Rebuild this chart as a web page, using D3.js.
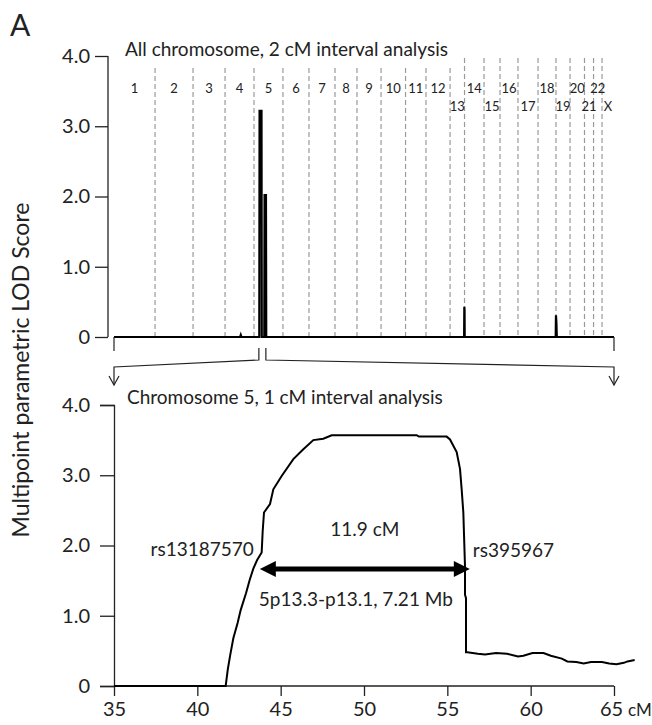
<!DOCTYPE html>
<html>
<head>
<meta charset="utf-8">
<script src="https://cdn.jsdelivr.net/npm/d3@7"></script>
<style>
  body { margin: 0; background: #fff; }
  text { font-family: Lato, "Open Sans", sans-serif; fill: #222; }
</style>
</head>
<body>
<div id="chart"></div>
<script>
// LOD score figure: genome-wide scan (top) and chromosome 5 zoom (bottom)

const width = 652;
const height = 725;

// chromosome names and approximate lengths (cM) for the genome-wide panel
const chromNames = ["1","2","3","4","5","6","7","8","9","10","11","12","13","14","15","16","17","18","19","20","21","22","X"];
const chromLen = [295,273,230,208,208,187,187,158,173,176,147,173,104,140,115,129,144,129,101,104,65,61,86];
// chromosomes whose label sits on the second row
const lowRow = ["13","15","17","19","21","X"];

// genome scan, 2 cM interval (non-zero parts and anchors)
const topChrom = ["1","4","4","4","5","5","5","5","5","5","5","5","13","13","13","14","18","19","19","19","X"];
const topCM    = [0, 108, 113, 118, 38, 40, 54, 56, 74, 76, 86, 88, 101, 102.5, 104, 1, 127, 0, 3, 6, 86];
const topLOD   = [0, 0, 0.03, 0, 0, 3.22, 3.22, 0, 0, 2.02, 2.02, 0, 0, 0.43, 0.38, 0, 0, 0.31, 0.21, 0, 0];

// chromosome 5, 1 cM interval
const chr5CM  = [35, 41.7, 41.83, 41.98, 42.16, 42.42, 42.6, 42.92, 43.14, 43.36, 43.58, 43.86, 43.92, 44.0, 44.36, 44.56, 45.06, 45.76, 46.36, 46.96, 47.56, 48.06, 50, 53.16, 53.3, 54.96, 55.16, 55.56, 55.76, 55.86, 55.96, 56.06, 56.06, 56.12, 56.12, 56.2, 56.83, 57.26, 57.92, 58.58, 59.24, 59.56, 60.11, 60.77, 61.21, 61.87, 62.2, 62.74, 63.18, 63.62, 64.28, 64.71, 65.15, 65.59, 65.81, 66.24];
const chr5LOD = [0, 0, 0.24, 0.45, 0.68, 0.90, 1.08, 1.32, 1.51, 1.67, 1.79, 1.90, 2.2, 2.47, 2.59, 2.8, 2.99, 3.23, 3.37, 3.5, 3.52, 3.57, 3.57, 3.57, 3.55, 3.55, 3.51, 3.33, 3.09, 2.8, 2.47, 1.7, 1.3, 1.25, 0.48, 0.48, 0.46, 0.45, 0.47, 0.46, 0.42, 0.43, 0.47, 0.47, 0.43, 0.39, 0.35, 0.34, 0.32, 0.34, 0.34, 0.32, 0.31, 0.33, 0.35, 0.37];

const lodTicks = [0, 1, 2, 3, 4];
const cmTicks = [35, 40, 45, 50, 55, 60, 65];

// interval markers
const flankLeft = { name: "rs13187570", cm: 43.75 };
const flankRight = { name: "rs395967", cm: 56.35 };

const svg = d3.select("#chart")
  .append("svg")
  .attr("width", width)
  .attr("height", height);

const lodFmt = d => d === 0 ? "0" : d.toFixed(1);

// ---------- top panel ----------
const starts = d3.cumsum([0].concat(chromLen));
const genomeLen = d3.sum(chromLen);
const startOf = c => starts[chromNames.indexOf(c)];

const xTop = d3.scaleLinear().domain([0, genomeLen]).range([114, 614]);
const yTop = d3.scaleLinear().domain([0, 4]).range([337, 56]);

svg.append("text")
  .attr("x", 10).attr("y", 36)
  .style("font-size", "30px")
  .text("A");

svg.append("text")
  .attr("x", 125).attr("y", 56)
  .style("font-size", "19px")
  .text("All chromosome, 2 cM interval analysis");

// chromosome boundaries
svg.append("g")
  .selectAll("line")
  .data(starts.slice(1, chromNames.length))
  .enter()
  .append("line")
  .attr("x1", d => xTop(d)).attr("x2", d => xTop(d))
  .attr("y1", d => xTop(d) < 455 ? 68 : 58)
  .attr("y2", yTop(0))
  .attr("stroke", "#9a9a9a")
  .attr("stroke-width", 1.2)
  .attr("stroke-dasharray", "5,3");

svg.append("g")
  .selectAll("text")
  .data(chromNames)
  .enter()
  .append("text")
  .attr("x", (d, i) => xTop(starts[i] + chromLen[i] / 2))
  .attr("y", d => lowRow.includes(d) ? 111 : 93)
  .attr("text-anchor", "middle")
  .style("font-size", "13px")
  .text(d => d);

const yAxisTop = svg.append("g")
  .attr("transform", "translate(108,0)")
  .call(d3.axisLeft(yTop).tickValues(lodTicks).tickFormat(lodFmt).tickSize(13).tickPadding(5));
yAxisTop.select(".domain").attr("d", `M0,${yTop(4)}V${yTop(0)}`);

// genome-wide curve
const topPts = [[0, 0]];
topChrom.forEach((c, i) => topPts.push([startOf(c) + topCM[i], topLOD[i]]));
topPts.push([genomeLen, 0]);

svg.append("path")
  .datum(topPts)
  .attr("fill", "none")
  .attr("stroke", "#000")
  .attr("stroke-width", 2.2)
  .attr("d", d3.line().x(d => xTop(d[0])).y(d => yTop(d[1])));

// zoom bracket from chromosome 5 down to the lower panel
const c5 = startOf("5");
const bx1 = xTop(c5 + 35), bx2 = bx1 + 7;
const bracket = svg.append("g")
  .attr("fill", "none")
  .attr("stroke", "#222")
  .attr("stroke-width", 1.2);
bracket.append("path").attr("d", `M${xTop(0)},${yTop(0)}V351`);
bracket.append("path").attr("d", `M${xTop(genomeLen)},${yTop(0)}V351`);
bracket.append("path").attr("d", `M${bx1},348V360L${xTop(0)},367V385`);
bracket.append("path").attr("d", `M${bx2},348V360L${xTop(genomeLen)},367V385`);
[xTop(0), xTop(genomeLen)].forEach(x => {
  bracket.append("path").attr("d", `M${x - 5},376L${x},385L${x + 5},376`);
});

// ---------- bottom panel ----------
const xBot = d3.scaleLinear().domain([35, 65]).range([114, 614]);
const yBot = d3.scaleLinear().domain([0, 4]).range([686, 405]);

svg.append("text")
  .attr("x", 127).attr("y", 404)
  .style("font-size", "19px")
  .text("Chromosome 5, 1 cM interval analysis");

const yAxisBot = svg.append("g")
  .attr("transform", `translate(${xBot(35)},0)`)
  .call(d3.axisLeft(yBot).tickValues(lodTicks).tickFormat(lodFmt).tickSize(14).tickPadding(10));

const xAxisBot = svg.append("g")
  .attr("transform", `translate(0,${yBot(0)})`)
  .call(d3.axisBottom(xBot).tickValues(cmTicks).tickSize(10).tickPadding(6));
xAxisBot.select(".domain").attr("d", `M${xBot(35)},0H${xBot(65)}`);

[yAxisTop, yAxisBot, xAxisBot].forEach(g => {
  g.selectAll("text").style("font-size", "20px").style("fill", "#222");
  g.selectAll("line, path").attr("stroke", "#222").attr("stroke-width", 1.3);
});
// nudge the last tick label left so the unit fits beside it
xAxisBot.selectAll(".tick text").filter(d => d === 65).attr("dx", "-3");

svg.append("text")
  .attr("x", xBot(65) + 14).attr("y", yBot(0) + 30)
  .style("font-size", "17px")
  .text("cM");

svg.append("text")
  .attr("transform", "translate(29,370) rotate(-90)")
  .attr("text-anchor", "middle")
  .style("font-size", "23px")
  .text("Multipoint parametric LOD Score");

svg.append("path")
  .datum(chr5CM.map((c, i) => [c, chr5LOD[i]]))
  .attr("fill", "none")
  .attr("stroke", "#000")
  .attr("stroke-width", 2)
  .attr("d", d3.line().x(d => xBot(d[0])).y(d => yBot(d[1])));

// double-headed arrow for the linked interval
const ay = 569;
const ax1 = xBot(flankLeft.cm), ax2 = xBot(flankRight.cm);
svg.append("line")
  .attr("x1", ax1 + 12).attr("x2", ax2 - 12)
  .attr("y1", ay).attr("y2", ay)
  .attr("stroke", "#000").attr("stroke-width", 5);
svg.append("path")
  .attr("d", `M${ax1},${ay}L${ax1 + 16},${ay - 8}V${ay + 8}Z M${ax2},${ay}L${ax2 - 16},${ay - 8}V${ay + 8}Z`)
  .attr("fill", "#000");

svg.append("text")
  .attr("x", ax1 - 6).attr("y", 556)
  .attr("text-anchor", "end")
  .style("font-size", "19px")
  .text(flankLeft.name);
svg.append("text")
  .attr("x", ax2 + 3).attr("y", 557)
  .style("font-size", "19px")
  .text(flankRight.name);
svg.append("text")
  .attr("x", (ax1 + ax2) / 2).attr("y", 536)
  .attr("text-anchor", "middle")
  .style("font-size", "19px")
  .text("11.9 cM");
svg.append("text")
  .attr("x", (ax1 + ax2) / 2 - 9).attr("y", 606)
  .attr("text-anchor", "middle")
  .style("font-size", "19px")
  .text("5p13.3-p13.1, 7.21 Mb");
</script>
</body>
</html>
